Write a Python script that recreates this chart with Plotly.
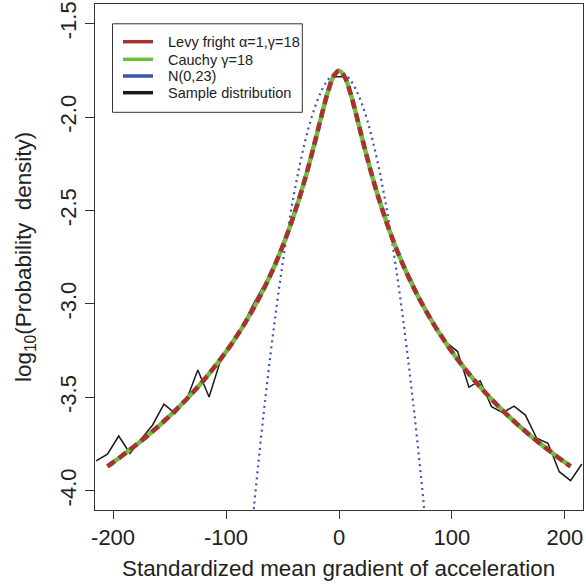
import plotly.graph_objects as go

# ---- data ----
# theoretical curves (log10 density), sampled every 5 units
curve_x = list(range(-205, 210, 5))
cauchy_y = [-3.869, -3.848, -3.826, -3.803, -3.780, -3.757, -3.733, -3.708, -3.682, -3.656,
            -3.628, -3.600, -3.571, -3.541, -3.510, -3.478, -3.445, -3.410, -3.374, -3.336,
            -3.297, -3.256, -3.213, -3.167, -3.120, -3.069, -3.016, -2.960, -2.900, -2.836,
            -2.767, -2.693, -2.613, -2.526, -2.432, -2.330, -2.219, -2.102, -1.981, -1.869,
            -1.785, -1.752, -1.785, -1.869, -1.981, -2.102, -2.219, -2.330, -2.432, -2.526,
            -2.613, -2.693, -2.767, -2.836, -2.900, -2.960, -3.016, -3.069, -3.120, -3.167,
            -3.213, -3.256, -3.297, -3.336, -3.374, -3.410, -3.445, -3.478, -3.510, -3.541,
            -3.571, -3.600, -3.628, -3.656, -3.682, -3.708, -3.733, -3.757, -3.780, -3.803,
            -3.826, -3.848, -3.869]
levy_y = [-3.869, -3.848, -3.826, -3.803, -3.780, -3.757, -3.733, -3.708, -3.682, -3.656,
          -3.628, -3.600, -3.571, -3.541, -3.510, -3.478, -3.445, -3.410, -3.374, -3.336,
          -3.297, -3.256, -3.213, -3.167, -3.120, -3.069, -3.016, -2.960, -2.900, -2.836,
          -2.767, -2.693, -2.613, -2.526, -2.432, -2.330, -2.219, -2.102, -1.981, -1.869,
          -1.785, -1.752, -1.785, -1.869, -1.981, -2.102, -2.219, -2.330, -2.432, -2.526,
          -2.613, -2.693, -2.767, -2.836, -2.900, -2.960, -3.016, -3.069, -3.120, -3.167,
          -3.213, -3.256, -3.297, -3.336, -3.374, -3.410, -3.445, -3.478, -3.510, -3.541,
          -3.571, -3.600, -3.628, -3.656, -3.682, -3.708, -3.733, -3.757, -3.780, -3.803,
          -3.826, -3.848, -3.869]

normal_x = list(range(-80, 85, 5))
normal_y = [-4.388, -4.070, -3.772, -3.495, -3.239, -3.003, -2.787, -2.592, -2.418, -2.264,
            -2.130, -2.017, -1.925, -1.853, -1.802, -1.771, -1.761, -1.771, -1.802, -1.853,
            -1.925, -2.017, -2.130, -2.264, -2.418, -2.592, -2.787, -3.003, -3.239, -3.495,
            -3.772, -4.070, -4.388]

sample_x = list(range(-215, 225, 10))
sample_y = [-3.840, -3.804, -3.707, -3.800, -3.723, -3.648, -3.536, -3.586, -3.514, -3.354,
            -3.498, -3.305, -3.210, -3.112, -2.992, -2.885, -2.758, -2.608, -2.430, -2.218,
            -1.981, -1.785, -1.785, -1.981, -2.219, -2.432, -2.613, -2.762, -2.880, -3.010,
            -3.117, -3.205, -3.255, -3.446, -3.411, -3.550, -3.582, -3.547, -3.595, -3.719,
            -3.746, -3.898, -3.946, -3.857]

x_ticks = [-200, -100, 0, 100, 200]
x_tick_text = ["-200", "-100", "0", "100", "200"]
y_ticks = [-4.0, -3.5, -3.0, -2.5, -2.0, -1.5]
y_tick_text = ["-4.0", "-3.5", "-3.0", "-2.5", "-2.0", "-1.5"]

legend_labels = ["Levy fright \u03b1=1,\u03b3=18", "Cauchy \u03b3=18", "N(0,23)", "Sample distribution"]

RED = "#a83232"
GREEN = "#6cc040"
BLUE = "#3a56b0"
BLACK = "#1a1a1a"
legend_colors = [RED, GREEN, BLUE, BLACK]

FONT = "Liberation Sans, Arial, sans-serif"

fig = go.Figure()
fig.add_trace(go.Scatter(x=sample_x, y=sample_y, mode="lines",
                         line=dict(color=BLACK, width=1.5)))
fig.add_trace(go.Scatter(x=normal_x, y=normal_y, mode="lines",
                         line=dict(color=BLUE, width=2.2, dash="2px,4px", shape="spline")))
fig.add_trace(go.Scatter(x=curve_x, y=cauchy_y, mode="lines",
                         line=dict(color=GREEN, width=4.5, shape="spline")))
fig.add_trace(go.Scatter(x=curve_x, y=levy_y, mode="lines",
                         line=dict(color=RED, width=4.5, dash="9px,5px", shape="spline")))

# plot area in pixels
L, R, T, B = 95, 583, 4, 510
W, H = R - L, B - T


def px(x):
    return (x - L) / W


def py(y):
    return (B - y) / H


shapes = [dict(type="rect", xref="paper", yref="paper",
               x0=px(112.5), x1=px(302.3), y0=py(112.3), y1=py(23.8),
               line=dict(color="#333", width=1), fillcolor="white")]
annotations = []
rows = [41.7, 59.3, 76.0, 92.7]
for lab, col, r in zip(legend_labels, legend_colors, rows):
    shapes.append(dict(type="line", xref="paper", yref="paper",
                       x0=px(123), x1=px(153), y0=py(r), y1=py(r),
                       line=dict(color=col, width=3.5)))
    annotations.append(dict(xref="paper", yref="paper", x=px(166), y=py(r + 0.5),
                            xanchor="left", yanchor="middle", showarrow=False,
                            text=lab, font=dict(family=FONT, size=14.5, color="#222")))

annotations.append(dict(xref="paper", yref="paper", x=px(25), y=py(257),
                        xanchor="center", yanchor="middle", showarrow=False, textangle=-90,
                        text="log<sub>10</sub>(Probability  density)",
                        font=dict(family=FONT, size=22.4, color="#222")))
annotations.append(dict(xref="paper", yref="paper", x=px(338), y=py(568),
                        xanchor="center", yanchor="middle", showarrow=False,
                        text="Standardized mean gradient of acceleration",
                        font=dict(family=FONT, size=22.4, color="#222")))

fig.update_layout(
    width=586, height=585,
    margin=dict(l=L, r=586 - R, t=T, b=585 - B, autoexpand=False),
    paper_bgcolor="white", plot_bgcolor="white",
    showlegend=False,
    shapes=shapes, annotations=annotations,
    font=dict(family=FONT, size=22, color="#222"),
)
fig.update_xaxes(range=[-216, 216], tickvals=x_ticks, ticktext=x_tick_text,
                 ticks="outside", ticklen=8,
                 tickcolor="#333", showline=True, linecolor="#333", linewidth=1,
                 mirror=True, showgrid=False, zeroline=False,
                 tickfont=dict(family=FONT, size=22, color="#222"))
fig.update_yaxes(range=[-4.103, -1.395], tickvals=y_ticks, ticktext=y_tick_text,
                 tickangle=-90, ticks="outside", ticklen=9,
                 tickcolor="#333", showline=True, linecolor="#333", linewidth=1,
                 mirror=True, showgrid=False, zeroline=False,
                 tickfont=dict(family=FONT, size=22, color="#222"))

fig.write_html("out.html")
